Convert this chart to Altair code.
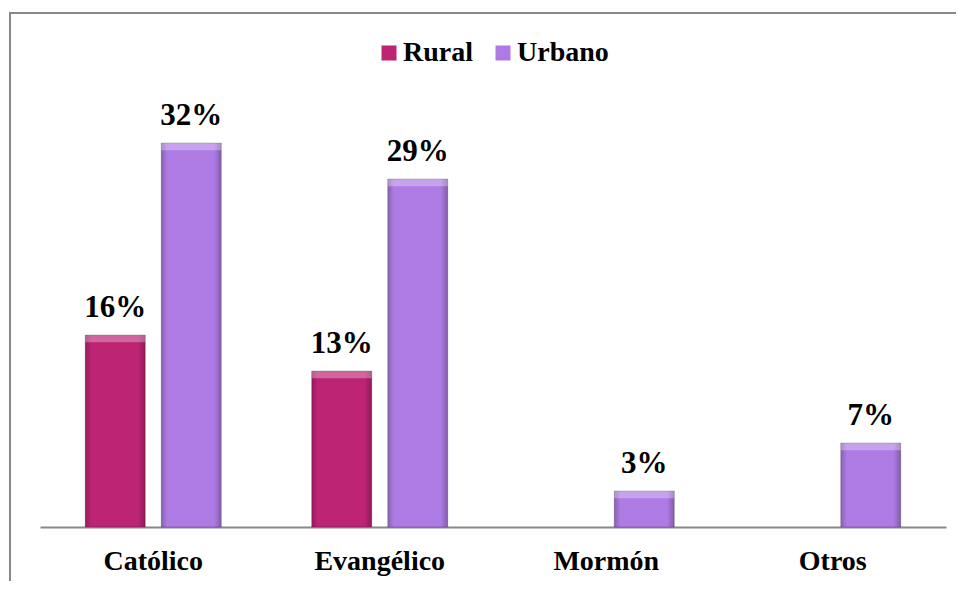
import altair as alt
import pandas as pd

categories = ["Católico", "Evangélico", "Mormón", "Otros"]
series = ["Rural", "Urbano"]
rural = [16, 13, None, None]
urbano = [32, 29, 3, 7]
colors = ["#BD2474", "#AE7BE4"]

rows = []
for i, c in enumerate(categories):
    for s, vals in zip(series, [rural, urbano]):
        if vals[i] is not None:
            rows.append({"cat": c, "serie": s, "val": vals[i]})
df = pd.DataFrame(rows)

FONT = "Liberation Serif"
W, H = 906, 420

x_enc = alt.X("cat:N", sort=categories,
              scale=alt.Scale(paddingInner=0, paddingOuter=0),
              axis=alt.Axis(title=None, labelAngle=0, ticks=False, labelPadding=42,
                            labelBaseline="alphabetic", labelFont=FONT, labelFontSize=28,
                            labelFontWeight="bold", labelColor="black",
                            domainColor="#888888", domainWidth=2, grid=False))
xo_enc = alt.XOffset("serie:N", sort=series,
                     scale=alt.Scale(paddingInner=0.2105, paddingOuter=0.595))
y_scale = alt.Scale(domain=[0, 35])

base = alt.Chart(df)

bars = base.mark_bar(strokeWidth=1, stroke="#00000033").encode(
    x=x_enc, xOffset=xo_enc,
    y=alt.Y("val:Q", scale=y_scale, axis=None),
    color=alt.Color("serie:N", sort=series,
                    scale=alt.Scale(domain=series, range=colors),
                    legend=alt.Legend(title=None, orient="none", direction="horizontal",
                                      legendX=335, legendY=-68, symbolType="square",
                                      symbolSize=225, symbolStrokeWidth=0,
                                      labelFont=FONT, labelFontSize=28,
                                      labelFontWeight="bold", labelColor="black",
                                      labelOffset=0, columnPadding=16, padding=0)),
)

shade = alt.LinearGradient(
    gradient="linear", x1=0, x2=1, y1=0, y2=0,
    stops=[alt.GradientStop(color="rgba(0,0,0,0.22)", offset=0),
           alt.GradientStop(color="rgba(0,0,0,0)", offset=0.1),
           alt.GradientStop(color="rgba(0,0,0,0)", offset=0.88),
           alt.GradientStop(color="rgba(0,0,0,0.25)", offset=1)])

sides = base.mark_bar(fill=shade).encode(
    x=x_enc, xOffset=xo_enc,
    y=alt.Y("val:Q", scale=y_scale, axis=None),
)

cap = base.transform_calculate(top2="datum.val - 0.6").mark_bar(
    fill="white", fillOpacity=0.3).encode(
    x=x_enc, xOffset=xo_enc,
    y=alt.Y("val:Q", scale=y_scale, axis=None),
    y2="top2:Q",
)

labels = base.transform_calculate(lab="datum.val + '%'").mark_text(
    baseline="alphabetic", dy=-18, font=FONT, fontSize=31, fontWeight="bold",
    color="black").encode(
    x=x_enc, xOffset=xo_enc,
    y=alt.Y("val:Q", scale=y_scale, axis=None),
    text="lab:N",
)

frame_data = alt.Data(values=[{"k": 1}])
frame_left = alt.Chart(frame_data).mark_rule(color="#888888", strokeWidth=2).encode(
    x=alt.value(-30), y=alt.value(-94), y2=alt.value(H + 70))
frame_top = alt.Chart(frame_data).mark_rule(color="#888888", strokeWidth=2).encode(
    x=alt.value(-31), x2=alt.value(W + 30), y=alt.value(-94))

chart = alt.layer(bars, sides, cap, labels, frame_left, frame_top).properties(
    width=W, height=H,
    background="white",
    autosize=alt.AutoSizeParams(type="none"),
    padding={"left": 32, "top": 99, "right": 10, "bottom": 54},
).configure_view(strokeWidth=0, stroke="transparent")

chart.save("out.html", embed_options={"renderer": "svg", "actions": False})
